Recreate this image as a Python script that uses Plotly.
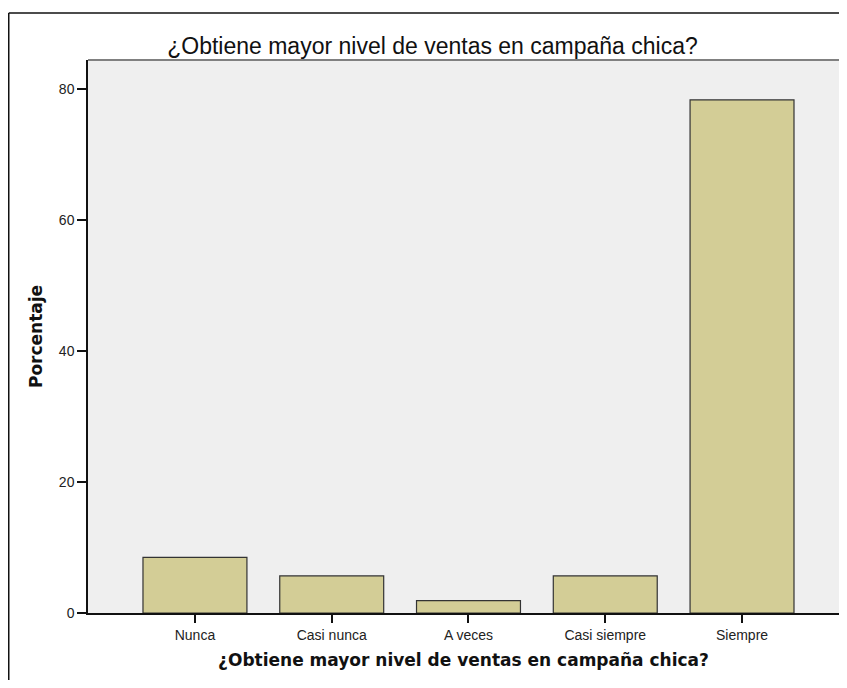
import plotly.graph_objects as go

categorias = ["Nunca", "Casi nunca", "A veces", "Casi siempre", "Siempre"]
porcentaje = [8.49, 5.66, 1.89, 5.66, 78.30]
y_ticks = [0, 20, 40, 60, 80]
titulo = "¿Obtiene mayor nivel de ventas en campaña chica?"

# the page body adds an 8px margin, so the figure is sized to fit inside it
W, H = 831, 672
L, R, T, B = 80, 0, 52, 67
pw = W - L - R
ph = H - T - B

def px_x(p):
    return (p - L) / pw

def px_y(p):
    return (H - B - p) / ph

fig = go.Figure()
fig.add_trace(go.Bar(
    x=categorias, y=porcentaje, width=0.76,
    marker=dict(color="#D3CD96", line=dict(color="#333333", width=1.2)),
    hoverinfo="x+y",
))

fig.update_layout(
    width=W, height=H,
    margin=dict(l=L, r=R, t=T, b=B, pad=0),
    paper_bgcolor="white",
    plot_bgcolor="#EFEFEF",
    showlegend=False,
    title=dict(text=titulo, x=424.5 / W, xanchor="center", xref="container",
               y=1 - 37.5 / H, yanchor="middle", yref="container",
               font=dict(family="Liberation Sans, Arial", size=23, color="#111111")),
    xaxis=dict(
        type="category", range=[-0.782, 4.709],
        showline=True, linecolor="#111111", linewidth=1.5,
        ticks="outside", ticklen=8, tickwidth=1.5, tickcolor="#111111",
        showgrid=False, zeroline=False, automargin=False,
        tickfont=dict(family="Liberation Sans, Arial", size=14, color="#222222"),
        title=dict(text=titulo, standoff=13,
                   font=dict(family="DejaVu Sans", size=17, color="#111111", weight="bold")),
    ),
    yaxis=dict(
        range=[0, 84.4], tickvals=y_ticks,
        showline=True, linecolor="#111111", linewidth=1.5,
        ticks="outside", ticklen=9, tickwidth=1.5, tickcolor="#111111",
        showgrid=False, zeroline=False, automargin=False,
        tickfont=dict(family="Liberation Sans, Arial", size=14, color="#222222"),
        title=dict(text="Porcentaje", standoff=12,
                   font=dict(family="DejaVu Sans", size=17, color="#111111", weight="bold")),
    ),
    shapes=[
        dict(type="line", xref="paper", yref="paper", x0=0, x1=1, y0=1, y1=1,
             line=dict(color="#808080", width=2)),
        dict(type="line", xref="paper", yref="paper", x0=px_x(0.75), x1=px_x(W + 5),
             y0=px_y(5), y1=px_y(5), line=dict(color="#111111", width=1.5)),
        dict(type="line", xref="paper", yref="paper", x0=px_x(0.75), x1=px_x(0.75),
             y0=px_y(5), y1=px_y(H + 5), line=dict(color="#111111", width=1.5)),
    ],
)

fig.write_html("out.html")
